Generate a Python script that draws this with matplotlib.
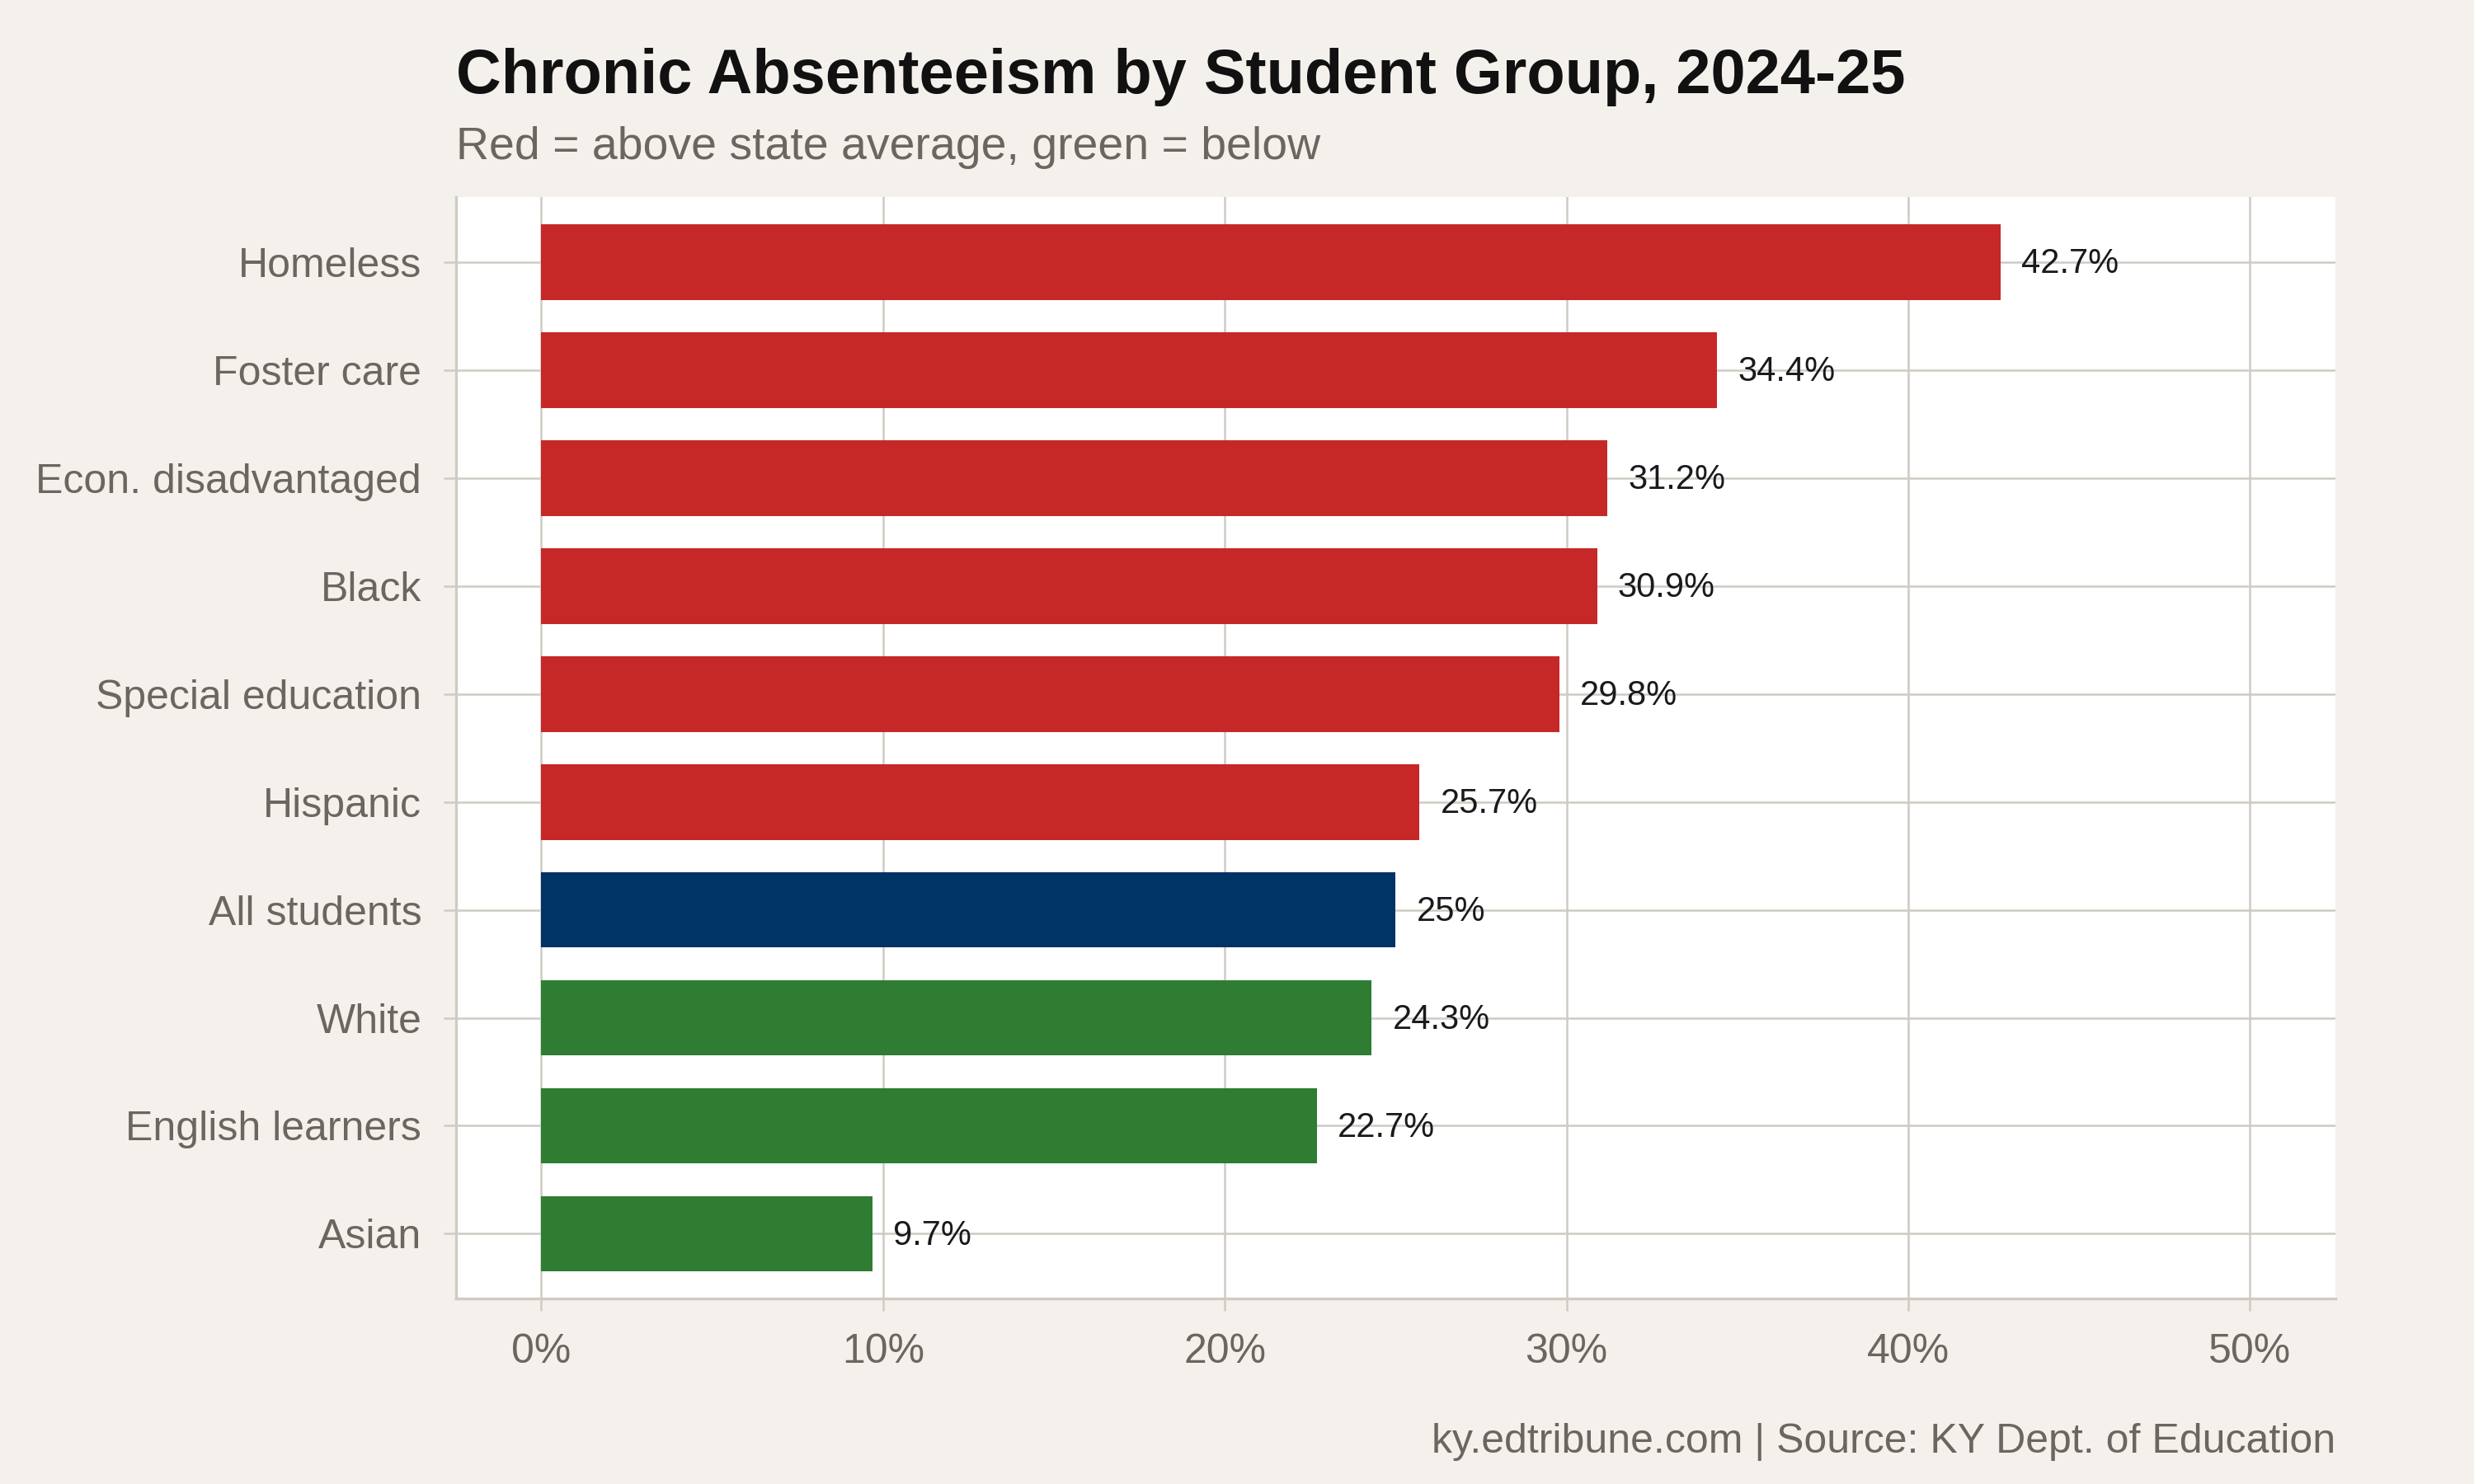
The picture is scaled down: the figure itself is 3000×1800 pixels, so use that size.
import matplotlib
matplotlib.use("Agg")
import matplotlib.pyplot as plt
from matplotlib.ticker import FuncFormatter

plt.rcParams['font.family'] = ['Liberation Sans', 'DejaVu Sans']

groups = ["Homeless", "Foster care", "Econ. disadvantaged", "Black",
          "Special education", "Hispanic", "All students", "White",
          "English learners", "Asian"]
rates = [42.7, 34.4, 31.2, 30.9, 29.8, 25.7, 25.0, 24.3, 22.7, 9.7]
labels = ["42.7%", "34.4%", "31.2%", "30.9%", "29.8%", "25.7%", "25%",
          "24.3%", "22.7%", "9.7%"]
status = ["above", "above", "above", "above", "above", "above", "all",
          "below", "below", "below"]
x_ticks = [0, 10, 20, 30, 40, 50]

palette = {"above": "#C62828", "all": "#003366", "below": "#2E7D32"}
bg = "#F4F1EC"
grid_col = "#CFCBC3"
text_grey = "#6B6660"

fig = plt.figure(figsize=(10, 6), dpi=300, facecolor=bg)
ax = fig.add_axes([0.1843, 0.125, 0.944 - 0.1843, 0.867 - 0.125])
ax.set_facecolor("white")

ypos = list(range(len(groups)))[::-1]
ax.barh(ypos, rates, height=0.7, color=[palette[s] for s in status], zorder=3)

for y, v, lab in zip(ypos, rates, labels):
    ax.annotate(lab, (v, y), xytext=(6, -0.5), textcoords="offset points",
                ha="left", va="center", fontsize=10, color="#1a1a1a", zorder=4)

ax.set_xlim(-2.5, 52.5)
ax.set_ylim(-0.6, len(groups) - 1 + 0.6)
ax.set_xticks(x_ticks)
ax.xaxis.set_major_formatter(FuncFormatter(lambda v, p: f"{v:.0f}%"))
ax.set_yticks(ypos)
ax.set_yticklabels(groups)

ax.grid(True, axis="both", color=grid_col, linewidth=0.6, zorder=0)
for side in ["top", "right"]:
    ax.spines[side].set_visible(False)
for side in ["left", "bottom"]:
    ax.spines[side].set_color(grid_col)
    ax.spines[side].set_linewidth(0.8)
ax.tick_params(axis="both", colors=grid_col, length=3.5, width=0.6,
               labelsize=12, labelcolor=text_grey, pad=6.5)

fig.text(0.1843, 0.937, "Chronic Absenteeism by Student Group, 2024-25",
         fontsize=18.2, fontweight="bold", color="#111111", ha="left", va="baseline")
fig.text(0.1843, 0.893, "Red = above state average, green = below",
         fontsize=13.3, color=text_grey, ha="left", va="baseline")
fig.text(0.944, 0.021, "ky.edtribune.com | Source: KY Dept. of Education",
         fontsize=12, color=text_grey, ha="right", va="baseline")

fig.savefig("out.png", dpi=300, facecolor=bg)
